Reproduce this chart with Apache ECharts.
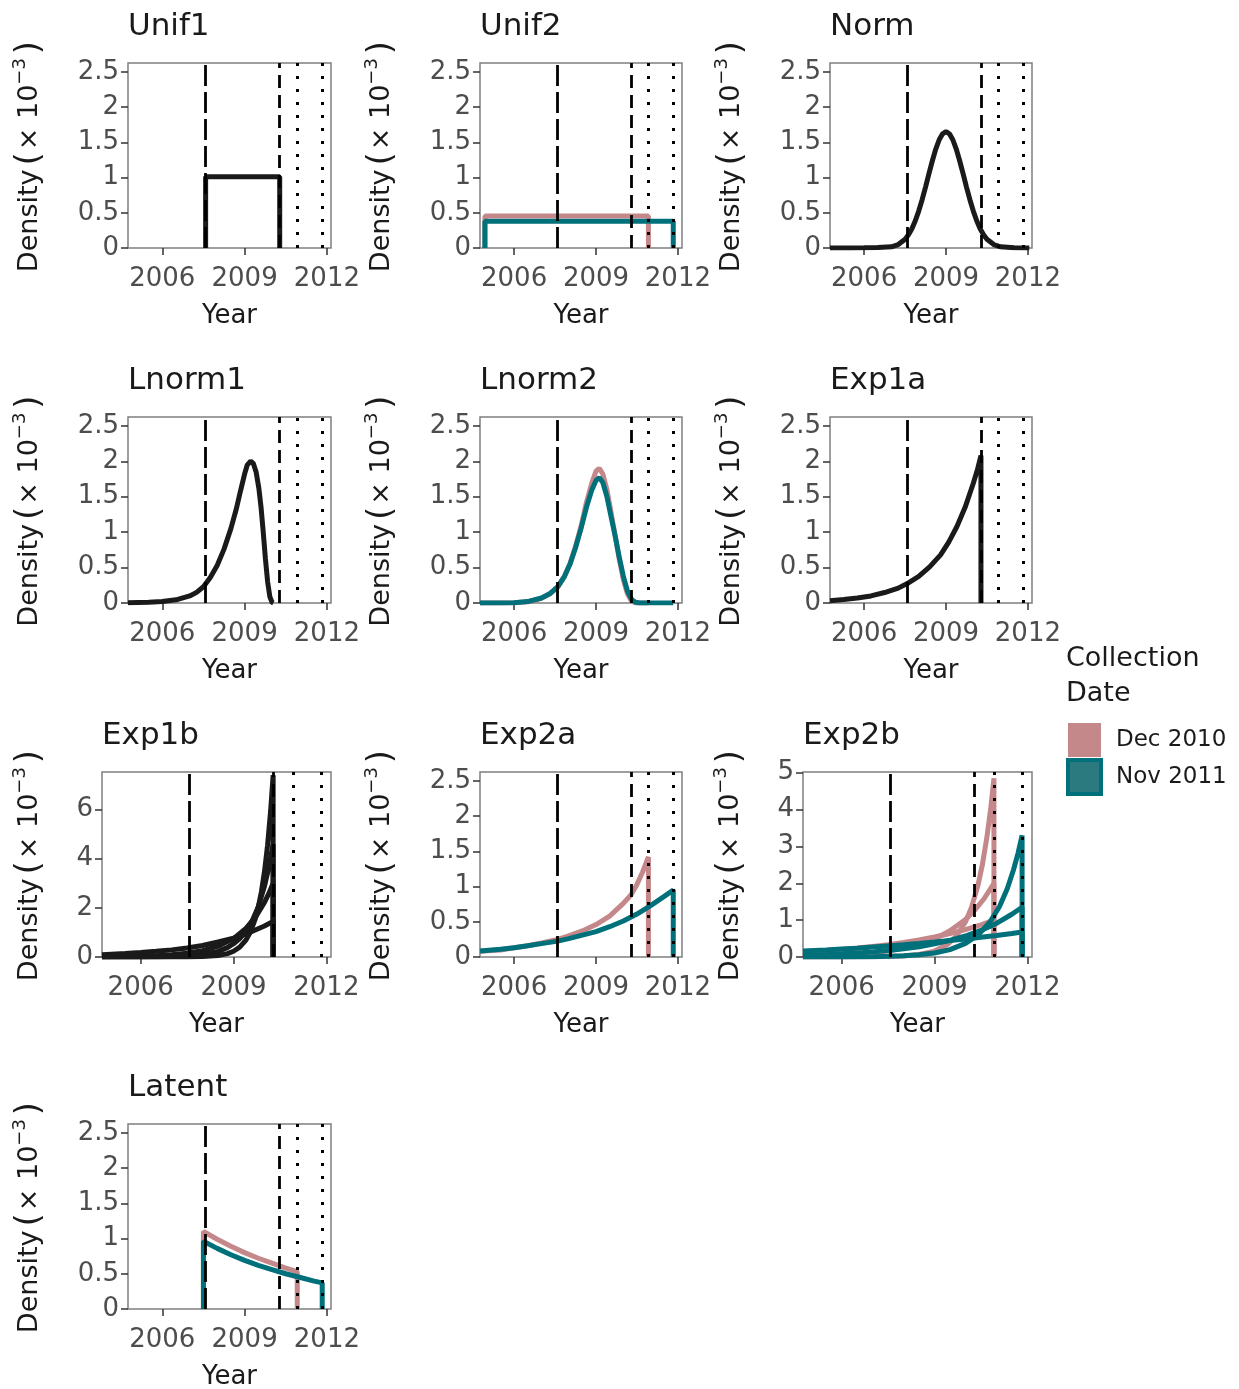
<!DOCTYPE html>
<html>
<head>
<meta charset="utf-8">
<script src="https://cdn.jsdelivr.net/npm/echarts@6.0.0/dist/echarts.min.js"></script>
<style>
html, body { margin: 0; padding: 0; background: #fff; }
#chart { width: 1239px; height: 1389px; }
</style>
</head>
<body>
<div id="chart"></div>
<script>
// tick labels
var yearTicks = [2006, 2009, 2012];
var densityTicks = [0, 0.5, 1, 1.5, 2, 2.5];
var exp1bTicks = [0, 2, 4, 6];
var exp2bTicks = [0, 1, 2, 3, 4, 5];

// vertical reference lines (long dash, dash, dotted, dotted)
var refYears = [2007.58, 2010.28, 2010.92, 2011.83];

var legendNames = ['Dec 2010', 'Nov 2011'];

// Unif1 / Unif2
var unif1 = [[2007.58, 0], [2007.58, 1.01], [2010.28, 1.01], [2010.28, 0]];
var unif2Dec = [[2004.93, 0], [2004.93, 0.455], [2010.92, 0.455], [2010.92, 0]];
var unif2Nov = [[2004.93, 0], [2004.93, 0.38], [2011.83, 0.38], [2011.83, 0]];

// Norm
var norm = [[2004.75, 0], [2005.5, 0], [2006, 0.002], [2006.5, 0.006], [2007, 0.017], [2007.25, 0.049],
    [2007.5, 0.125], [2007.625, 0.189], [2007.75, 0.274], [2007.875, 0.386], [2008, 0.524], [2008.125, 0.685],
    [2008.25, 0.865], [2008.375, 1.054], [2008.5, 1.238], [2008.625, 1.404], [2008.75, 1.536], [2008.875, 1.62],
    [2009, 1.65], [2009.125, 1.62], [2009.25, 1.536], [2009.375, 1.404], [2009.5, 1.238], [2009.625, 1.054],
    [2009.75, 0.865], [2009.875, 0.685], [2010, 0.524], [2010.125, 0.386], [2010.25, 0.274], [2010.375, 0.189],
    [2010.5, 0.125], [2010.75, 0.049], [2011, 0.017], [2011.5, 0.002], [2012.05, 0]];

// Lnorm1 / Lnorm2
var lnorm1 = [[2004.75, 0.005], [2005.5, 0.01], [2006, 0.02], [2006.5, 0.045], [2007, 0.1], [2007.25, 0.15],
    [2007.5, 0.23], [2007.75, 0.36], [2008, 0.53], [2008.25, 0.76], [2008.5, 1.05], [2008.7, 1.33],
    [2008.85, 1.58], [2009, 1.82], [2009.1, 1.95], [2009.22, 2.0], [2009.32, 1.97], [2009.42, 1.85],
    [2009.52, 1.62], [2009.6, 1.35], [2009.68, 1.0], [2009.76, 0.62], [2009.84, 0.3], [2009.92, 0.09],
    [2010.0, 0.01], [2010.05, 0]];
var lnorm2Dec = [[2004.75, 0], [2005.5, 0], [2006, 0.004], [2006.5, 0.018], [2007, 0.065], [2007.3, 0.125],
    [2007.6, 0.225], [2007.85, 0.38], [2008.05, 0.56], [2008.25, 0.8], [2008.45, 1.08], [2008.65, 1.42],
    [2008.85, 1.7], [2009, 1.86], [2009.12, 1.9], [2009.25, 1.82], [2009.4, 1.6], [2009.55, 1.28],
    [2009.7, 0.95], [2009.85, 0.62], [2010, 0.33], [2010.15, 0.13], [2010.3, 0.03], [2010.45, 0], [2010.92, 0]];
var lnorm2Nov = [[2004.75, 0], [2005.5, 0], [2006, 0.005], [2006.5, 0.02], [2007, 0.07], [2007.3, 0.13],
    [2007.6, 0.23], [2007.85, 0.38], [2008.05, 0.55], [2008.25, 0.78], [2008.45, 1.05], [2008.65, 1.35],
    [2008.85, 1.6], [2009, 1.73], [2009.12, 1.77], [2009.25, 1.7], [2009.4, 1.5], [2009.55, 1.22],
    [2009.7, 0.95], [2009.85, 0.65], [2010, 0.38], [2010.15, 0.17], [2010.3, 0.05], [2010.45, 0.01],
    [2010.6, 0], [2011.83, 0]];

// Exp1a / Exp1b
var exp1a = [[2004.75, 0.033], [2005.25, 0.048], [2005.75, 0.07], [2006.25, 0.1], [2006.75, 0.148],
    [2007.25, 0.21], [2007.58, 0.275], [2008, 0.375], [2008.4, 0.51], [2008.8, 0.68], [2009.1, 0.86],
    [2009.4, 1.08], [2009.7, 1.35], [2010, 1.69], [2010.15, 1.88], [2010.28, 2.08], [2010.28, 0]];
var exp1bA = [[2004.75, 0], [2006, 0], [2007, 0.001], [2007.5, 0.004], [2008, 0.016], [2008.5, 0.061],
    [2008.8, 0.136], [2009, 0.234], [2009.2, 0.4], [2009.4, 0.69], [2009.55, 1.03], [2009.7, 1.54],
    [2009.8, 2.03], [2009.9, 2.65], [2010, 3.47], [2010.1, 4.55], [2010.2, 5.96], [2010.28, 7.4], [2010.28, 0]];
var exp1bB = [[2004.75, 0], [2006, 0.003], [2007, 0.019], [2007.5, 0.043], [2008, 0.1], [2008.5, 0.23],
    [2008.8, 0.38], [2009, 0.54], [2009.2, 0.75], [2009.4, 1.05], [2009.6, 1.47], [2009.8, 2.05],
    [2010, 2.88], [2010.15, 3.7], [2010.28, 4.6], [2010.28, 0]];
var exp1bC = [[2004.75, 0.008], [2005.5, 0.017], [2006, 0.03], [2006.5, 0.05], [2007, 0.087], [2007.5, 0.15],
    [2008, 0.26], [2008.5, 0.44], [2009, 0.75], [2009.4, 1.16], [2009.7, 1.6], [2010, 2.22], [2010.15, 2.61],
    [2010.28, 3.0], [2010.28, 0]];
var exp1bD = [[2004.75, 0.096], [2005.5, 0.14], [2006, 0.18], [2006.5, 0.23], [2007, 0.29], [2007.5, 0.37],
    [2008, 0.47], [2008.5, 0.61], [2009, 0.77], [2009.5, 0.99], [2010, 1.26], [2010.28, 1.45], [2010.28, 0]];

// Exp2a / Exp2b
var exp2aDec = [[2004.75, 0.08], [2005.5, 0.1], [2006, 0.13], [2006.5, 0.16], [2007, 0.2], [2007.6, 0.25],
    [2008, 0.3], [2008.5, 0.37], [2009, 0.46], [2009.5, 0.58], [2010, 0.76], [2010.28, 0.88], [2010.5, 1.03],
    [2010.7, 1.2], [2010.92, 1.42], [2010.92, 0]];
var exp2aNov = [[2004.75, 0.085], [2005.5, 0.11], [2006, 0.13], [2006.5, 0.16], [2007, 0.19], [2007.6, 0.225],
    [2008, 0.26], [2008.5, 0.31], [2009, 0.36], [2009.5, 0.43], [2010, 0.51], [2010.5, 0.61], [2011, 0.73],
    [2011.5, 0.86], [2011.83, 0.95], [2011.83, 0]];
var exp2bDecA = [[2004.75, 0], [2006, 0.001], [2007, 0.005], [2007.5, 0.011], [2008, 0.028], [2008.5, 0.067],
    [2009, 0.16], [2009.4, 0.33], [2009.7, 0.56], [2010, 0.95], [2010.2, 1.36], [2010.4, 1.93], [2010.55, 2.52],
    [2010.7, 3.29], [2010.82, 4.06], [2010.92, 4.85], [2010.92, 0]];
var exp2bDecB = [[2004.75, 0.022], [2005.5, 0.038], [2006, 0.055], [2006.5, 0.079], [2007, 0.115], [2007.5, 0.164],
    [2008, 0.24], [2008.5, 0.34], [2009, 0.49], [2009.5, 0.71], [2010, 1.02], [2010.3, 1.27], [2010.6, 1.58],
    [2010.92, 2.0], [2010.92, 0]];
var exp2bDecC = [[2004.75, 0.14], [2005.5, 0.176], [2006, 0.207], [2006.5, 0.243], [2007, 0.285], [2007.5, 0.335],
    [2008, 0.393], [2008.5, 0.46], [2009, 0.541], [2009.5, 0.635], [2010, 0.745], [2010.5, 0.874], [2010.92, 1.0],
    [2010.92, 0]];
var exp2bNovA = [[2004.75, 0], [2006, 0.003], [2007, 0.01], [2007.5, 0.018], [2008, 0.033], [2008.5, 0.06],
    [2009, 0.11], [2009.5, 0.2], [2010, 0.37], [2010.4, 0.59], [2010.8, 0.96], [2011.1, 1.37], [2011.35, 1.85],
    [2011.55, 2.36], [2011.7, 2.82], [2011.83, 3.3], [2011.83, 0]];
var exp2bNovB = [[2004.75, 0.048], [2005.5, 0.069], [2006, 0.087], [2006.5, 0.11], [2007, 0.139], [2007.5, 0.176],
    [2008, 0.223], [2008.5, 0.28], [2009, 0.36], [2009.5, 0.45], [2010, 0.57], [2010.5, 0.72], [2011, 0.91],
    [2011.5, 1.16], [2011.83, 1.35], [2011.83, 0]];
var exp2bNovC = [[2004.75, 0.16], [2005.5, 0.19], [2006, 0.215], [2006.5, 0.24], [2007, 0.27], [2007.5, 0.3],
    [2008, 0.33], [2008.5, 0.365], [2009, 0.405], [2009.5, 0.45], [2010, 0.49], [2010.5, 0.535], [2011, 0.585],
    [2011.5, 0.64], [2011.83, 0.68], [2011.83, 0]];

// Latent
var latentDec = [[2007.5, 0], [2007.5, 1.1], [2008, 0.99], [2008.5, 0.89], [2009, 0.8], [2009.5, 0.72],
    [2010, 0.65], [2010.5, 0.58], [2010.92, 0.53], [2010.92, 0]];
var latentNov = [[2007.5, 0], [2007.5, 0.96], [2008, 0.86], [2008.5, 0.77], [2009, 0.69], [2009.5, 0.62],
    [2010, 0.56], [2010.5, 0.5], [2011, 0.45], [2011.5, 0.4], [2011.83, 0.37], [2011.83, 0]];

var BLACK = '#1a1a1a';
var PINK = '#c4878a';
var TEAL = '#00707a';
var FONT = 'DejaVu Sans';

var panels = [
    {title: 'Unif1', left: 128, top: 63, width: 203, height: 185, yMax: 2.625, yTicks: densityTicks,
        lines: [{name: 'Unif1', data: unif1, color: BLACK}]},
    {title: 'Unif2', left: 480, top: 63, width: 202, height: 185, yMax: 2.625, yTicks: densityTicks,
        lines: [{name: 'Dec 2010', data: unif2Dec, color: PINK}, {name: 'Nov 2011', data: unif2Nov, color: TEAL}]},
    {title: 'Norm', left: 830, top: 63, width: 202, height: 185, yMax: 2.625, yTicks: densityTicks,
        lines: [{name: 'Norm', data: norm, color: BLACK}]},
    {title: 'Lnorm1', left: 128, top: 417, width: 203, height: 186, yMax: 2.625, yTicks: densityTicks,
        lines: [{name: 'Lnorm1', data: lnorm1, color: BLACK}]},
    {title: 'Lnorm2', left: 480, top: 417, width: 202, height: 186, yMax: 2.625, yTicks: densityTicks,
        lines: [{name: 'Dec 2010', data: lnorm2Dec, color: PINK}, {name: 'Nov 2011', data: lnorm2Nov, color: TEAL}]},
    {title: 'Exp1a', left: 830, top: 417, width: 202, height: 186, yMax: 2.625, yTicks: densityTicks,
        lines: [{name: 'Exp1a', data: exp1a, color: BLACK}]},
    {title: 'Exp1b', left: 102, top: 772, width: 229, height: 185, yMax: 7.53, yTicks: exp1bTicks,
        lines: [{name: 'Exp1b', data: exp1bD, color: BLACK}, {name: 'Exp1b', data: exp1bC, color: BLACK},
            {name: 'Exp1b', data: exp1bB, color: BLACK}, {name: 'Exp1b', data: exp1bA, color: BLACK}]},
    {title: 'Exp2a', left: 480, top: 772, width: 202, height: 185, yMax: 2.625, yTicks: densityTicks,
        lines: [{name: 'Dec 2010', data: exp2aDec, color: PINK}, {name: 'Nov 2011', data: exp2aNov, color: TEAL}]},
    {title: 'Exp2b', left: 803, top: 772, width: 229, height: 185, yMax: 5.02, yTicks: exp2bTicks,
        lines: [{name: 'Dec 2010', data: exp2bDecC, color: PINK}, {name: 'Dec 2010', data: exp2bDecB, color: PINK},
            {name: 'Dec 2010', data: exp2bDecA, color: PINK}, {name: 'Nov 2011', data: exp2bNovC, color: TEAL},
            {name: 'Nov 2011', data: exp2bNovB, color: TEAL}, {name: 'Nov 2011', data: exp2bNovA, color: TEAL}]},
    {title: 'Latent', left: 128, top: 1124, width: 203, height: 185, yMax: 2.625, yTicks: densityTicks,
        lines: [{name: 'Dec 2010', data: latentDec, color: PINK}, {name: 'Nov 2011', data: latentNov, color: TEAL}]}
];

// reference line styles, same order as refYears
var refStyles = [
    {type: [21, 6], width: 2.8},
    {type: [13, 7], width: 2.8},
    {type: [3, 10], width: 3},
    {type: [3, 10], width: 3}
];

var grids = [], xAxes = [], yAxes = [], series = [], titles = [];

panels.forEach(function (p, i) {
    grids.push({
        left: p.left, top: p.top, width: p.width, height: p.height,
        show: true, borderColor: '#7f7f7f', borderWidth: 1.5, backgroundColor: '#fff',
        containLabel: false, outerBoundsMode: 'none'
    });
    xAxes.push({
        gridIndex: i, type: 'value', min: 2004.75, max: 2012.15,
        name: 'Year', nameLocation: 'middle', nameGap: 55,
        nameTextStyle: {fontFamily: FONT, fontSize: 26, color: '#1a1a1a'},
        axisLine: {show: false},
        axisTick: {show: true, length: 7, customValues: yearTicks, lineStyle: {color: '#333', width: 1.5}},
        axisLabel: {customValues: yearTicks, margin: 18, fontFamily: FONT, fontSize: 26, color: '#4d4d4d',
            formatter: function (v) { return String(v); }},
        splitLine: {show: false}
    });
    var wide = p.yTicks !== densityTicks;
    yAxes.push({
        gridIndex: i, type: 'value', min: 0, max: p.yMax,
        name: '{a|Density}{b|(}{a|× 10}{c|−3}{b|)}', nameLocation: 'middle', nameGap: wide ? 53 : 79,
        nameTextStyle: {
            fontFamily: FONT, color: '#1a1a1a',
            rich: {
                a: {fontFamily: FONT, fontSize: 27, color: '#1a1a1a', lineHeight: 38},
                b: {fontFamily: FONT, fontSize: 34, color: '#1a1a1a', lineHeight: 38, padding: [0, 2, 0, 4]},
                c: {fontFamily: FONT, fontSize: 18, color: '#1a1a1a', lineHeight: 38, verticalAlign: 'top'}
            }
        },
        axisLine: {show: false},
        axisTick: {show: true, length: 7, customValues: p.yTicks, lineStyle: {color: '#333', width: 1.5}},
        axisLabel: {customValues: p.yTicks, margin: 9, fontFamily: FONT, fontSize: 26, color: '#4d4d4d'},
        splitLine: {show: false}
    });
    titles.push({
        text: p.title, left: p.left, top: p.top - 52, padding: 0,
        textStyle: {fontFamily: FONT, fontSize: 31, fontWeight: 'normal', color: '#1a1a1a'}
    });
    p.lines.forEach(function (ln, k) {
        var s = {
            name: ln.name, type: 'line', xAxisIndex: i, yAxisIndex: i,
            data: ln.data, showSymbol: false, symbol: 'none', color: ln.color,
            lineStyle: {color: ln.color, width: 5}, silent: true, z: 2
        };
        if (k === p.lines.length - 1) {
            s.markLine = {
                symbol: ['none', 'none'], silent: true, label: {show: false}, animation: false,
                data: refYears.map(function (yr, j) {
                    return {xAxis: yr, lineStyle: {color: '#000', type: refStyles[j].type, width: refStyles[j].width}};
                })
            };
        }
        series.push(s);
    });
});

// legend title
titles.push({
    text: 'Collection\nDate', left: 1066, top: 641, padding: 0,
    textStyle: {fontFamily: FONT, fontSize: 27, fontWeight: 'normal', color: '#1a1a1a', lineHeight: 35}
});

var chart = echarts.init(document.getElementById('chart'), null, {renderer: 'canvas'});
chart.setOption({
    animation: false,
    backgroundColor: '#fff',
    title: titles,
    legend: {
        data: [
            {name: legendNames[0], itemStyle: {color: PINK}},
            {name: legendNames[1], itemStyle: {color: '#2a7a7f', borderColor: TEAL, borderWidth: 4}}
        ],
        orient: 'vertical', left: 1066, top: 723, padding: 0,
        icon: 'rect', itemWidth: 33, itemHeight: 34, itemGap: 1, selectedMode: false,
        textStyle: {fontFamily: FONT, fontSize: 23, color: '#1a1a1a', padding: [0, 0, 0, 10]}
    },
    grid: grids,
    xAxis: xAxes,
    yAxis: yAxes,
    series: series
});
</script>
</body>
</html>
